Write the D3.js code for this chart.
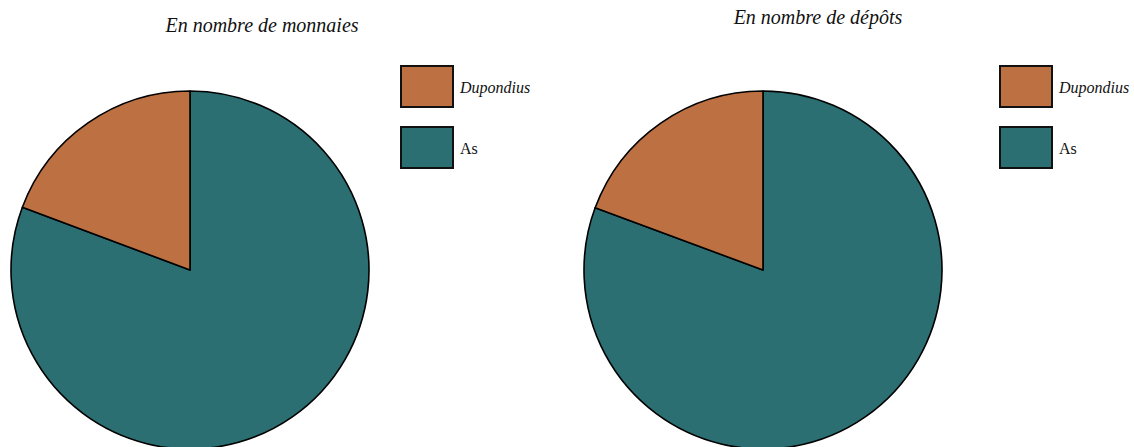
<!DOCTYPE html>
<html><head><meta charset="utf-8">
<script src="https://cdn.jsdelivr.net/npm/d3@7"></script>
<style>body{margin:0;background:#fff}svg{display:block}</style>
</head><body>
<svg id="c" width="1134" height="447"></svg>
<script>
const categories = ["As", "Dupondius"];
const monnaiesValues = [46, 11];
const depotsValues = [25, 6];
const legendLabels = ["Dupondius", "As"];
const titles = ["En nombre de monnaies", "En nombre de dépôts"];

const color = d3.scaleOrdinal().domain(categories).range(["#2b6f73", "#bd7142"]);
const svg = d3.select("#c");
const font = "'Liberation Serif', 'DejaVu Serif', serif";

const panels = [
  {vals: monnaiesValues, cx: 190, cy: 270, r: 179, title: titles[0], tx: 262, ty: 32, lx: 401},
  {vals: depotsValues, cx: 763, cy: 270, r: 179, title: titles[1], tx: 818, ty: 24, lx: 1000}
];

const pie = d3.pie().sort(null).value(d => d.v);
const arc = d3.arc().innerRadius(0);

panels.forEach(p => {
  const data = categories.map((c, i) => ({c, v: p.vals[i]}));
  const g = svg.append("g").attr("transform", `translate(${p.cx},${p.cy})`);
  g.selectAll("path").data(pie(data)).join("path")
    .attr("d", d => arc.outerRadius(p.r)(d))
    .attr("fill", d => color(d.data.c))
    .attr("stroke", "#000").attr("stroke-width", 1.6).attr("stroke-linejoin", "round");

  svg.append("text").attr("x", p.tx).attr("y", p.ty).attr("text-anchor", "middle")
    .attr("font-family", font).attr("font-style", "italic").attr("font-size", 20)
    .attr("fill", "#111").text(p.title);

  const lg = svg.append("g").attr("transform", `translate(${p.lx},66)`);
  legendLabels.forEach((l, i) => {
    lg.append("rect").attr("x", 0).attr("y", i * 61).attr("width", 52).attr("height", 41)
      .attr("fill", color(l)).attr("stroke", "#111").attr("stroke-width", 2);
    lg.append("text").attr("x", 59).attr("y", i * 61 + 27)
      .attr("font-family", font).attr("font-size", 16)
      .attr("font-style", l === "Dupondius" ? "italic" : "normal")
      .attr("fill", "#111").text(l);
  });
});
</script>
</body></html>
